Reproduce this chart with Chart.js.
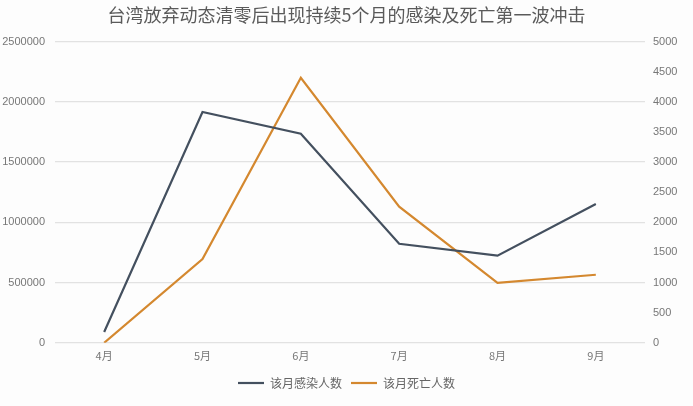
<!DOCTYPE html>
<html>
<head>
<meta charset="utf-8">
<script src="https://cdn.jsdelivr.net/npm/chart.js@4"></script>
<style>
html,body{margin:0;padding:0;background:#fdfdfd;}
#wrap{width:693px;height:406px;position:relative;}
</style>
</head>
<body>
<div id="wrap"><canvas id="c"></canvas></div>
<script>
const titleText = '台湾放弃动态清零后出现持续5个月的感染及死亡第一波冲击';
const months = ['4月','5月','6月','7月','8月','9月'];
const infections = [90000, 1916000, 1736000, 822000, 723000, 1152000];
const deaths = [0, 1390, 4400, 2260, 995, 1130];
const seriesNames = ['该月感染人数','该月死亡人数'];

const tickFont = {family:'"Liberation Sans", Arial, sans-serif', size:11};
const plain = (v)=>String(v);

new Chart(document.getElementById('c'), {
  type:'line',
  data:{
    labels: months,
    datasets:[
      {label:seriesNames[0], data:infections, yAxisID:'y', borderColor:'#44505f', backgroundColor:'#44505f', borderWidth:2.2, pointRadius:0, tension:0},
      {label:seriesNames[1], data:deaths, yAxisID:'y1', borderColor:'#d4882f', backgroundColor:'#d4882f', borderWidth:2.2, pointRadius:0, tension:0}
    ]
  },
  options:{
    responsive:true, maintainAspectRatio:false, animation:false,
    layout:{padding:{left:0,right:0,top:4,bottom:7}},
    plugins:{
      title:{display:true, text:titleText, color:'#5a5a5a', font:{family:'"Noto Sans CJK SC", sans-serif', size:18, weight:'normal'}, padding:{top:0,bottom:16}},
      legend:{position:'bottom', labels:{usePointStyle:true, pointStyle:'line', pointStyleWidth:26, color:'#666', padding:9, font:{family:'"Noto Sans CJK SC", sans-serif', size:12}}},
      tooltip:{enabled:false}
    },
    scales:{
      x:{offset:true, grid:{display:false, drawTicks:false}, border:{display:false}, ticks:{color:'#777', font:{family:'"Noto Sans CJK SC", sans-serif', size:11}, padding:6}},
      y:{position:'left', min:0, max:2500000, ticks:{stepSize:500000, color:'#777', font:tickFont, padding:10, callback:plain}, grid:{color:'#e2e2e2', drawTicks:false, lineWidth:1.2}, border:{display:false},
         afterFit:(s)=>{s.width=55;}},
      y1:{position:'right', min:0, max:5000, ticks:{stepSize:500, color:'#777', font:tickFont, padding:8, callback:plain}, grid:{display:false, drawTicks:false}, border:{display:false},
         afterFit:(s)=>{s.width=48;}}
    }
  }
});
</script>
</body>
</html>
